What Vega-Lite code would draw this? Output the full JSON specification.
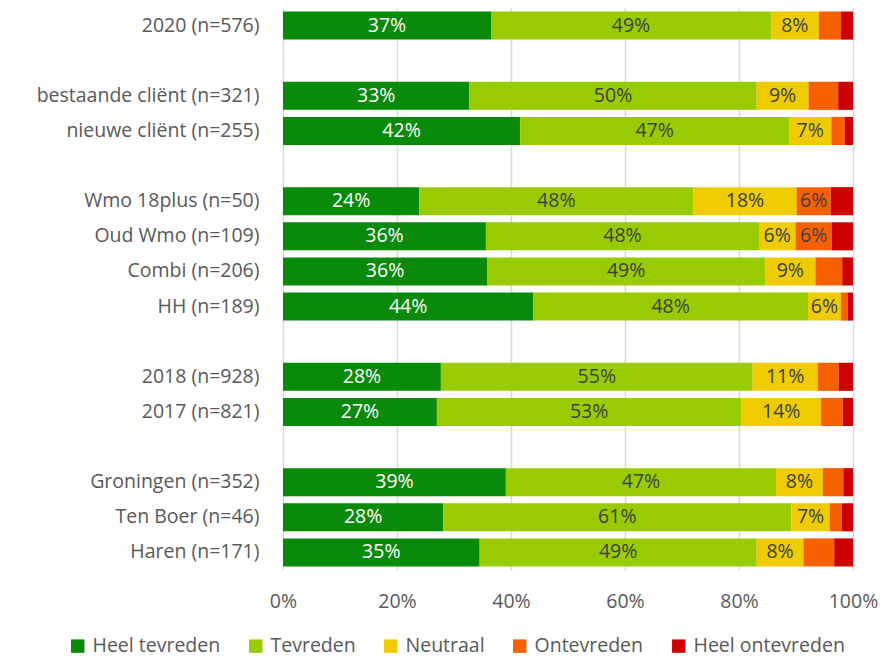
{
  "$schema": "https://vega.github.io/schema/vega-lite/v6.json",
  "width": 570,
  "height": 562,
  "autosize": {"type": "none"},
  "padding": {"left": 283, "top": 8, "right": 30, "bottom": 90},
  "background": "white",
  "config": {"view": {"stroke": null}, "font": "Open Sans"},
  "data": {"values": [
    {"cat": "2020 (n=576)", "resp": "Heel tevreden", "o": 1, "pct": 36.5},
    {"cat": "2020 (n=576)", "resp": "Tevreden", "o": 2, "pct": 49.1},
    {"cat": "2020 (n=576)", "resp": "Neutraal", "o": 3, "pct": 8.4},
    {"cat": "2020 (n=576)", "resp": "Ontevreden", "o": 4, "pct": 3.9},
    {"cat": "2020 (n=576)", "resp": "Heel ontevreden", "o": 5, "pct": 2.1},
    {"cat": "bestaande cliënt (n=321)", "resp": "Heel tevreden", "o": 1, "pct": 32.7},
    {"cat": "bestaande cliënt (n=321)", "resp": "Tevreden", "o": 2, "pct": 50.4},
    {"cat": "bestaande cliënt (n=321)", "resp": "Neutraal", "o": 3, "pct": 9.1},
    {"cat": "bestaande cliënt (n=321)", "resp": "Ontevreden", "o": 4, "pct": 5.2},
    {"cat": "bestaande cliënt (n=321)", "resp": "Heel ontevreden", "o": 5, "pct": 2.6},
    {"cat": "nieuwe cliënt (n=255)", "resp": "Heel tevreden", "o": 1, "pct": 41.6},
    {"cat": "nieuwe cliënt (n=255)", "resp": "Tevreden", "o": 2, "pct": 47.2},
    {"cat": "nieuwe cliënt (n=255)", "resp": "Neutraal", "o": 3, "pct": 7.4},
    {"cat": "nieuwe cliënt (n=255)", "resp": "Ontevreden", "o": 4, "pct": 2.4},
    {"cat": "nieuwe cliënt (n=255)", "resp": "Heel ontevreden", "o": 5, "pct": 1.4},
    {"cat": "Wmo 18plus (n=50)", "resp": "Heel tevreden", "o": 1, "pct": 23.9},
    {"cat": "Wmo 18plus (n=50)", "resp": "Tevreden", "o": 2, "pct": 48.1},
    {"cat": "Wmo 18plus (n=50)", "resp": "Neutraal", "o": 3, "pct": 18.1},
    {"cat": "Wmo 18plus (n=50)", "resp": "Ontevreden", "o": 4, "pct": 6.0},
    {"cat": "Wmo 18plus (n=50)", "resp": "Heel ontevreden", "o": 5, "pct": 3.9},
    {"cat": "Oud Wmo (n=109)", "resp": "Heel tevreden", "o": 1, "pct": 35.6},
    {"cat": "Oud Wmo (n=109)", "resp": "Tevreden", "o": 2, "pct": 47.9},
    {"cat": "Oud Wmo (n=109)", "resp": "Neutraal", "o": 3, "pct": 6.4},
    {"cat": "Oud Wmo (n=109)", "resp": "Ontevreden", "o": 4, "pct": 6.4},
    {"cat": "Oud Wmo (n=109)", "resp": "Heel ontevreden", "o": 5, "pct": 3.7},
    {"cat": "Combi (n=206)", "resp": "Heel tevreden", "o": 1, "pct": 35.8},
    {"cat": "Combi (n=206)", "resp": "Tevreden", "o": 2, "pct": 48.8},
    {"cat": "Combi (n=206)", "resp": "Neutraal", "o": 3, "pct": 8.8},
    {"cat": "Combi (n=206)", "resp": "Ontevreden", "o": 4, "pct": 4.7},
    {"cat": "Combi (n=206)", "resp": "Heel ontevreden", "o": 5, "pct": 1.9},
    {"cat": "HH (n=189)", "resp": "Heel tevreden", "o": 1, "pct": 43.9},
    {"cat": "HH (n=189)", "resp": "Tevreden", "o": 2, "pct": 48.2},
    {"cat": "HH (n=189)", "resp": "Neutraal", "o": 3, "pct": 5.8},
    {"cat": "HH (n=189)", "resp": "Ontevreden", "o": 4, "pct": 1.2},
    {"cat": "HH (n=189)", "resp": "Heel ontevreden", "o": 5, "pct": 0.9},
    {"cat": "2018 (n=928)", "resp": "Heel tevreden", "o": 1, "pct": 27.7},
    {"cat": "2018 (n=928)", "resp": "Tevreden", "o": 2, "pct": 54.7},
    {"cat": "2018 (n=928)", "resp": "Neutraal", "o": 3, "pct": 11.4},
    {"cat": "2018 (n=928)", "resp": "Ontevreden", "o": 4, "pct": 3.7},
    {"cat": "2018 (n=928)", "resp": "Heel ontevreden", "o": 5, "pct": 2.5},
    {"cat": "2017 (n=821)", "resp": "Heel tevreden", "o": 1, "pct": 27.0},
    {"cat": "2017 (n=821)", "resp": "Tevreden", "o": 2, "pct": 53.4},
    {"cat": "2017 (n=821)", "resp": "Neutraal", "o": 3, "pct": 14.0},
    {"cat": "2017 (n=821)", "resp": "Ontevreden", "o": 4, "pct": 3.8},
    {"cat": "2017 (n=821)", "resp": "Heel ontevreden", "o": 5, "pct": 1.8},
    {"cat": "Groningen (n=352)", "resp": "Heel tevreden", "o": 1, "pct": 39.1},
    {"cat": "Groningen (n=352)", "resp": "Tevreden", "o": 2, "pct": 47.4},
    {"cat": "Groningen (n=352)", "resp": "Neutraal", "o": 3, "pct": 8.2},
    {"cat": "Groningen (n=352)", "resp": "Ontevreden", "o": 4, "pct": 3.6},
    {"cat": "Groningen (n=352)", "resp": "Heel ontevreden", "o": 5, "pct": 1.7},
    {"cat": "Ten Boer (n=46)", "resp": "Heel tevreden", "o": 1, "pct": 28.1},
    {"cat": "Ten Boer (n=46)", "resp": "Tevreden", "o": 2, "pct": 61.1},
    {"cat": "Ten Boer (n=46)", "resp": "Neutraal", "o": 3, "pct": 6.7},
    {"cat": "Ten Boer (n=46)", "resp": "Ontevreden", "o": 4, "pct": 2.1},
    {"cat": "Ten Boer (n=46)", "resp": "Heel ontevreden", "o": 5, "pct": 2.0},
    {"cat": "Haren (n=171)", "resp": "Heel tevreden", "o": 1, "pct": 34.5},
    {"cat": "Haren (n=171)", "resp": "Tevreden", "o": 2, "pct": 48.6},
    {"cat": "Haren (n=171)", "resp": "Neutraal", "o": 3, "pct": 8.2},
    {"cat": "Haren (n=171)", "resp": "Ontevreden", "o": 4, "pct": 5.4},
    {"cat": "Haren (n=171)", "resp": "Heel ontevreden", "o": 5, "pct": 3.3}
  ]},
  "transform": [
    {"stack": "pct", "groupby": ["cat"], "sort": [{"field": "o", "order": "ascending"}], "offset": "normalize", "as": ["x0", "x1"]},
    {"calculate": "(datum.x0 + datum.x1) / 2", "as": "mid"},
    {"calculate": "format(datum.pct, '.0f') + '%'", "as": "label"}
  ],
  "encoding": {
    "y": {
      "field": "cat", "type": "nominal", "title": null,
      "scale": {
        "domain": ["2020 (n=576)", "_a", "bestaande cliënt (n=321)", "nieuwe cliënt (n=255)", "_b", "Wmo 18plus (n=50)", "Oud Wmo (n=109)", "Combi (n=206)", "HH (n=189)", "_c", "2018 (n=928)", "2017 (n=821)", "_d", "Groningen (n=352)", "Ten Boer (n=46)", "Haren (n=171)"],
        "paddingInner": 0.2, "paddingOuter": 0.1
      },
      "axis": {
        "labelExpr": "indexof(datum.label, '_') == 0 ? '' : datum.label",
        "domain": false, "ticks": false, "labelPadding": 24,
        "labelFontSize": 19.5, "labelColor": "#595959", "labelLimit": 300
      }
    }
  },
  "layer": [
    {
      "mark": {"type": "bar"},
      "encoding": {
        "x": {
          "field": "x0", "type": "quantitative",
          "scale": {"domain": [0, 1], "nice": false},
          "axis": {
            "title": null, "format": ".0%", "values": [0, 0.2, 0.4, 0.6, 0.8, 1],
            "domain": false, "ticks": false, "grid": true, "gridColor": "#D9D9D9", "gridWidth": 1.5,
            "labelPadding": 22, "labelFontSize": 19.5, "labelColor": "#595959",
            "labelFlush": false
          }
        },
        "x2": {"field": "x1"},
        "color": {
          "field": "resp", "type": "nominal", "title": null,
          "scale": {
            "domain": ["Heel tevreden", "Tevreden", "Neutraal", "Ontevreden", "Heel ontevreden"],
            "range": ["#0A8A0A", "#99CC00", "#EECC00", "#F66000", "#CC0000"]
          },
          "legend": {
            "orient": "none", "direction": "horizontal",
            "legendX": -215, "legendY": 628,
            "symbolType": "square", "symbolSize": 180, "symbolStrokeWidth": 0,
            "labelFontSize": 19.5, "labelColor": "#595959", "columnPadding": 25,
            "labelOffset": 5
          }
        }
      }
    },
    {
      "transform": [{"filter": "datum.pct >= 5.5"}],
      "mark": {"type": "text", "fontSize": 19.5, "baseline": "middle", "align": "center"},
      "encoding": {
        "x": {"field": "mid", "type": "quantitative"},
        "text": {"field": "label"},
        "color": {
          "condition": {"test": "datum.resp == 'Heel tevreden'", "value": "white"},
          "value": "#404040"
        }
      }
    }
  ]
}
